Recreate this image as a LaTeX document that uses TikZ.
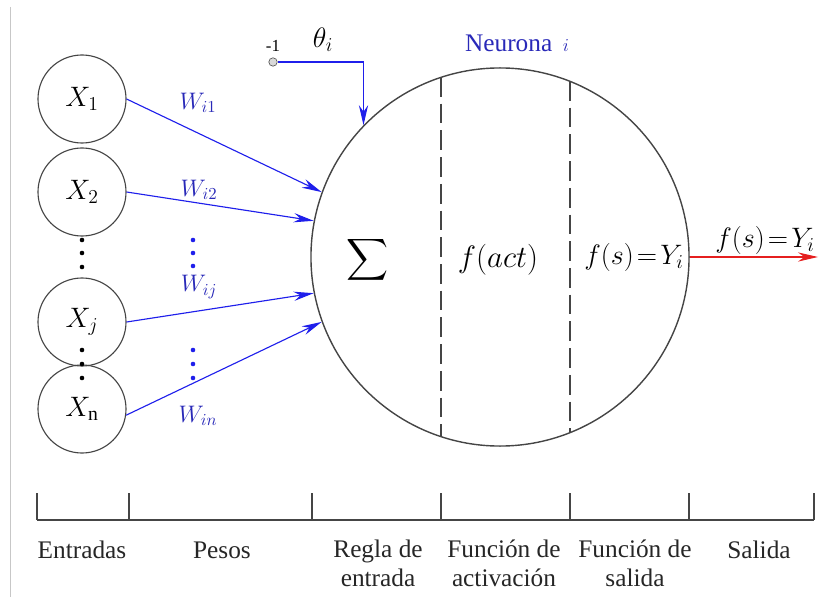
\RequirePackage{fix-cm}
\documentclass[tikz,border=0pt]{standalone}
\usepackage{amsmath}
\usepackage{fontspec}
\setmainfont{Liberation Serif}
\usetikzlibrary{arrows.meta}
\usetikzlibrary{positioning}
\definecolor{fg}{rgb}{0.27,0.27,0.27}
\definecolor{peso}{rgb}{0.12,0.12,0.92}
\definecolor{pesotxt}{rgb}{0.16,0.16,0.72}
\definecolor{rojo}{rgb}{0.9,0.12,0.12}
\tikzstyle{entrada}=[draw=fg, circle, line width=0.8pt, minimum size=2.2cm,
inner sep=0pt, font=\fontsize{20}{22}\selectfont]
\tikzstyle{neurona}=[draw=fg, circle, line width=1pt, minimum size=9.45cm, inner sep=0pt]
\tikzstyle{flecha}=[-{Stealth[length=5mm,width=2.3mm]}, draw=peso, line width=0.8pt]
\tikzstyle{wlab}=[text=pesotxt, font=\fontsize{17}{19}\selectfont, inner sep=0pt]
\tikzstyle{funcion}=[inner sep=0pt, font=\fontsize{20}{22}\selectfont]
\tikzstyle{eje}=[draw=fg, line width=0.8pt]
\tikzstyle{etiqueta}=[font=\rmfamily\fontsize{18}{20}\selectfont, align=center, anchor=base,
inner sep=0pt, text=black!85]

\begin{document}
\begin{tikzpicture}[x=0.025cm, y=-0.025cm]
    \useasboundingbox (0,0) rectangle (823,597);
    \draw[black!22, line width=0.6pt] (10,7) -- (10,597);

    % entradas
    \node[entrada] (x1) at (82,99) {$X_1$};
    \node[entrada] (x2) at (82,192) {$X_2$};
    \node[entrada] (xj) at (82,322) {$X_j$};
    \node[entrada] (xn) at (82,409) {$X_{\mathrm{n}}$};
    \foreach \y in {240,253,267,350,364,378}
        \fill[black] (82,\y) circle (2.3);

    % neurona
    \node[neurona] (neurona) at (500,257) {};
    \node[text=pesotxt, font=\rmfamily\fontsize{18}{20}\selectfont] (titulo) at (517,43) {Neurona \,{\fontsize{13}{15}\selectfont$i$}};
    \draw[fg, line width=0.8pt, dash pattern=on 14pt off 5pt] (441,77) -- (441,437);
    \draw[fg, line width=0.8pt, dash pattern=on 14pt off 5pt] (570,81) -- (570,433);
    \node[font=\fontsize{20}{22}\selectfont] (suma) at (368,260) {$\displaystyle\sum$};
    \node[funcion, font=\fontsize{22}{24}\selectfont] (fact) at (498,260) {$f(act)$};
    \node[funcion] (fs) at (634,257) {$f(s)\!=\!Y_i$};

    % pesos
    \draw[flecha] (x1.east) -- (neurona.160);
    \draw[flecha] (x2.east) -- (neurona.169);
    \draw[flecha] (xj.east) -- (neurona.191);
    \draw[flecha] (xn.-8) -- (neurona.200);
    \node[wlab] (w1) at (198,103) {$W_{i1}$};
    \node[wlab] (w2) at (199,190) {$W_{i2}$};
    \node[wlab] (wj) at (199,287) {$W_{ij}$};
    \node[wlab] (wn) at (198,416) {$W_{in}$};
    \foreach \y in {240,253,266,350,364,378}
        \fill[peso] (193,\y) circle (2.3);

    % umbral
    \node[draw=fg, fill=black!15, circle, inner sep=0pt, minimum size=6pt] (bias) at (273,62) {};
    \node[font=\rmfamily\fontsize{12}{13}\selectfont, inner sep=0pt, above=4pt of bias] (menos) {-1};
    \node[font=\fontsize{20}{22}\selectfont] (theta) at (323,40) {$\theta_i$};
    \draw[flecha] (bias.east) -| (neurona.136.5);

    % salida
    \coordinate (fin) at (818,257);
    \draw[-{Stealth[length=5mm,width=2.3mm]}, draw=rojo, line width=0.8pt] (neurona.east) -- (fin);
    \node[funcion] (ysal) at (765,240) {$f(s)\!=\!Y_i$};

    % eje inferior
    \draw[eje] (37,520) -- (814,520);
    \foreach \x in {37,129,312,441,570,689,814}
        \draw[eje] (\x,493) -- (\x,520);
    \node[etiqueta] (e1) at (82,558) {Entradas};
    \node[etiqueta] (e2) at (222,558) {Pesos};
    \node[etiqueta] (e3) at (378,586) {Regla de\\entrada};
    \node[etiqueta] (e4) at (504,586) {Función de\\activación};
    \node[etiqueta] (e5) at (635,586) {Función de\\salida};
    \node[etiqueta] (e6) at (759,558) {Salida};
\end{tikzpicture}
\end{document}
